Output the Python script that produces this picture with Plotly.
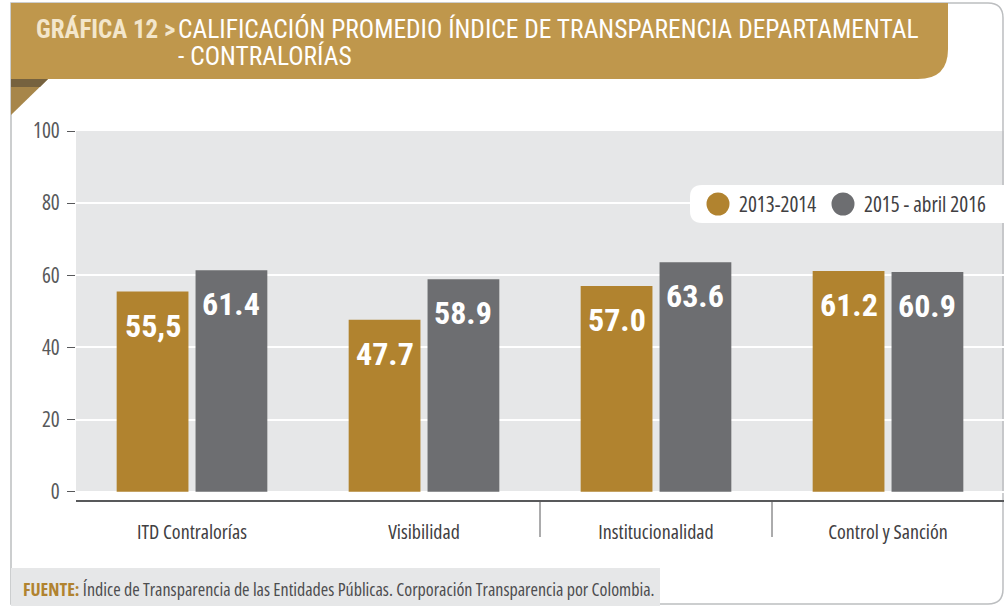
import plotly.graph_objects as go

# ---------------- data ----------------
categories = ["ITD Contralorías", "Visibilidad", "Institucionalidad", "Control y Sanción"]
series_names = ["2013-2014", "2015 - abril 2016"]
values_2013_2014 = [55.5, 47.7, 57.0, 61.2]
values_2015_2016 = [61.4, 58.9, 63.6, 60.9]
labels_2013_2014 = ["55,5", "47.7", "57.0", "61.2"]
labels_2015_2016 = ["61.4", "58.9", "63.6", "60.9"]
y_ticks = [0, 20, 40, 60, 80, 100]

title_prefix = "GRÁFICA 12 >"
title_line1 = "CALIFICACIÓN PROMEDIO ÍNDICE DE TRANSPARENCIA DEPARTAMENTAL"
title_line2 = "- CONTRALORÍAS"
source_label = "FUENTE:"
source_text = " Índice de Transparencia de las Entidades Públicas. Corporación Transparencia por Colombia."

# ---------------- style ----------------
GOLD = "#B1832F"
GREY = "#6D6E71"
BANNER = "#BF974C"
PLOTBG = "#E6E7E8"
TXT = "#4D4D4F"
FONT = "Roboto Condensed, Open Sans, sans-serif"
LIGHT = "Open Sans, Roboto Condensed, sans-serif"


def cond(t):
    return f"<span style='font-stretch:condensed'>{t}</span>"


W, H = 1006, 606
ML, MR, MT, MB = 76, 2, 131, 106
PW, PH = W - ML - MR, H - MT - MB
BARGAP, BARGROUPGAP = 0.32, 0.09
CAT_PX = PW / len(categories)
SLOT_SHIFT = (1 - BARGAP) * CAT_PX / 4


def px(x):
    return (x - ML) / PW


def py(y):
    return (H - MB - y) / PH


def path(points, close=True):
    parts = []
    for cmd, pts in points:
        parts.append(cmd + " " + " ".join(f"{px(a):.5f},{py(b):.5f}" for a, b in pts))
    s = " ".join(parts)
    return s + (" Z" if close else "")


fig = go.Figure()
fig.add_trace(go.Bar(x=categories, y=values_2013_2014, name=series_names[0],
                     marker=dict(color=GOLD, line=dict(width=0)), showlegend=False, hoverinfo="skip"))
fig.add_trace(go.Bar(x=categories, y=values_2015_2016, name=series_names[1],
                     marker=dict(color=GREY, line=dict(width=0)), showlegend=False, hoverinfo="skip"))

shapes = []
# plot background (data range 0..100)
shapes.append(dict(type="rect", xref="paper", yref="y", x0=0, x1=1, y0=0, y1=100,
                   fillcolor=PLOTBG, line=dict(width=0), layer="below"))
# outer frame
shapes.append(dict(type="path", xref="paper", yref="paper", layer="below",
                   path=path([("M", [(11, 604)]), ("L", [(11, 3)]), ("L", [(988, 3)]),
                              ("Q", [(1003, 3), (1003, 18)]), ("L", [(1003, 589)]),
                              ("Q", [(1003, 604), (988, 604)])]),
                   line=dict(color="#BCBEC0", width=1.5), fillcolor="rgba(0,0,0,0)"))
# title banner
shapes.append(dict(type="path", xref="paper", yref="paper", layer="above",
                   path=path([("M", [(11, 3)]), ("L", [(948, 3)]), ("L", [(948, 49)]),
                              ("Q", [(948, 79), (918, 79)]), ("L", [(11, 79)])]),
                   fillcolor=BANNER, line=dict(width=0)))
# folded corner
shapes.append(dict(type="path", xref="paper", yref="paper", layer="above",
                   path=path([("M", [(11, 79)]), ("L", [(48, 79)]), ("L", [(11, 115)])]),
                   fillcolor="#A7864A", line=dict(width=0)))
shapes.append(dict(type="path", xref="paper", yref="paper", layer="above",
                   path=path([("M", [(11, 79)]), ("L", [(48, 79)]), ("L", [(40, 87)]), ("L", [(11, 87)])]),
                   fillcolor="#76623F", line=dict(width=0)))
# footer box
shapes.append(dict(type="rect", xref="paper", yref="paper", layer="above",
                   x0=px(11), x1=px(660), y0=py(606), y1=py(568),
                   fillcolor=PLOTBG, line=dict(width=0)))
# category separators
for b in [1.5, 2.5]:
    shapes.append(dict(type="line", xref="x", yref="paper", x0=b, x1=b, y0=0, y1=py(537),
                       line=dict(color="#58595B", width=1)))
# legend box
shapes.append(dict(type="path", xref="paper", yref="paper", layer="above",
                   path=path([("M", [(1004, 185)]), ("L", [(702, 185)]),
                              ("Q", [(690, 185), (690, 197)]), ("L", [(690, 211)]),
                              ("Q", [(690, 223), (702, 223)]), ("L", [(1004, 223)])]),
                   fillcolor="white", line=dict(width=0)))
legend_items = [(718, GOLD, series_names[0], 737), (843, GREY, series_names[1], 862)]
for cx, col, name, tx in legend_items:
    shapes.append(dict(type="circle", xref="paper", yref="paper", layer="above",
                       x0=px(cx - 11.5), x1=px(cx + 11.5), y0=py(204 + 11.5), y1=py(204 - 11.5),
                       fillcolor=col, line=dict(width=0)))

annotations = []
for cx, col, name, tx in legend_items:
    annotations.append(dict(xref="paper", yref="paper", x=px(tx), y=py(204), text=cond(name),
                            showarrow=False, xanchor="left", yanchor="middle",
                            font=dict(family=LIGHT, size=21, color="#414042")))

# value labels
for vals, labs, sign in [(values_2013_2014, labels_2013_2014, -1), (values_2015_2016, labels_2015_2016, 1)]:
    for c, v, t in zip(categories, vals, labs):
        annotations.append(dict(xref="x", yref="y", x=c, y=v, text=f"<b>{t}</b>",
                                showarrow=False, xanchor="center", yanchor="middle",
                                xshift=sign * SLOT_SHIFT, yshift=-34,
                                font=dict(family=FONT, size=32, color="white")))

# title
annotations.append(dict(xref="paper", yref="paper", x=px(34), y=py(29), text=f"<b>{title_prefix}</b>",
                        showarrow=False, xanchor="left", yanchor="middle",
                        font=dict(family=FONT, size=25, color="#F3E6CB")))
annotations.append(dict(xref="paper", yref="paper", x=px(176), y=py(29), text=title_line1,
                        showarrow=False, xanchor="left", yanchor="middle",
                        font=dict(family=FONT, size=25.5, color="white")))
annotations.append(dict(xref="paper", yref="paper", x=px(176), y=py(56), text=title_line2,
                        showarrow=False, xanchor="left", yanchor="middle",
                        font=dict(family=FONT, size=25.5, color="white")))
# source
annotations.append(dict(xref="paper", yref="paper", x=px(21), y=py(589),
                        text=f"<b><span style='color:{GOLD};font-stretch:condensed'>{source_label}</span></b>"
                             + cond(source_text),
                        showarrow=False, xanchor="left", yanchor="middle",
                        font=dict(family=LIGHT, size=18, color=TXT)))

fig.update_layout(
    width=W, height=H,
    margin=dict(l=ML, r=MR, t=MT, b=MB, pad=0),
    paper_bgcolor="white", plot_bgcolor="white",
    barmode="group", bargap=BARGAP, bargroupgap=BARGROUPGAP,
    showlegend=False,
    shapes=shapes, annotations=annotations,
    font=dict(family=LIGHT, color=TXT),
)
fig.update_xaxes(range=[-0.5, len(categories) - 0.5], showline=True, linecolor="#58595B", linewidth=1.5,
                 showgrid=False, ticks="", tickvals=categories, ticktext=[cond(c) for c in categories],
                 tickfont=dict(family=LIGHT, size=20, color="#414042"),
                 ticklabelstandoff=13, fixedrange=True)
fig.update_yaxes(range=[-2.3, 100], tickvals=y_ticks, ticktext=[cond(v) for v in y_ticks],
                 ticks="outside", ticklen=8, tickcolor="#58595B",
                 tickwidth=1, showgrid=True, gridcolor="white", gridwidth=2, zeroline=False,
                 showline=False, tickfont=dict(family=LIGHT, size=21, color="#58595B"),
                 ticklabelstandoff=3, fixedrange=True)

fig.write_html("out.html", config={"displayModeBar": False},
               post_script="document.body.style.margin='0';")
